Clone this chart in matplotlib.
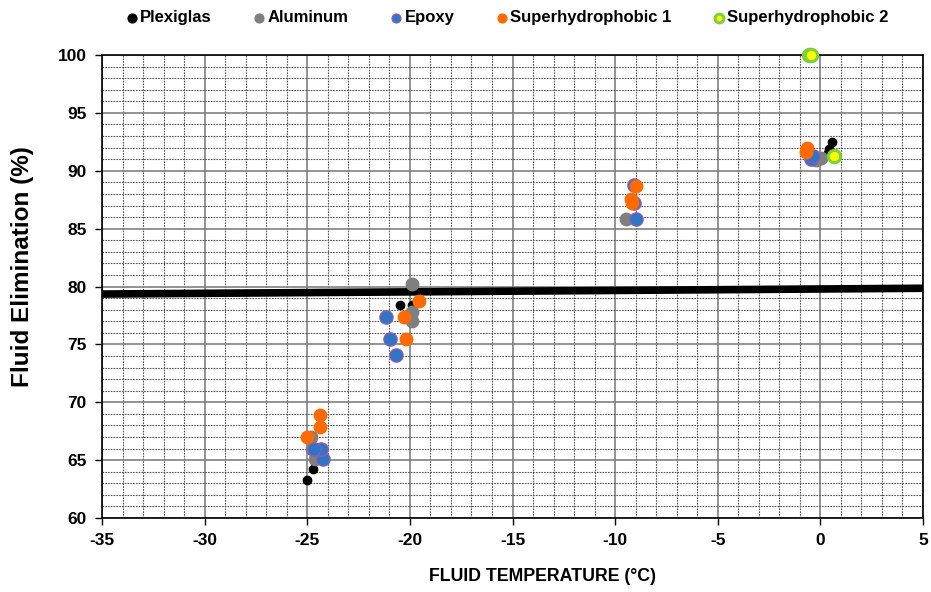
import matplotlib
matplotlib.use('Agg')
import matplotlib.pyplot as plt
from matplotlib.ticker import MultipleLocator

plt.rcParams['font.family'] = ['Liberation Sans', 'DejaVu Sans']
plt.rcParams['font.weight'] = 'bold'
plt.rcParams['axes.unicode_minus'] = False

# Data
plexi_x = [-25.0, -24.7, -20.5, -19.9, 0.36, 0.44, 0.57]
plexi_y = [63.3, 64.2, 78.4, 78.4, 91.5, 91.9, 92.5]

alu_x = [-24.6, -24.77, -24.8, -19.9, -19.9, -19.9, -9.46, 0.03, -0.2]
alu_y = [65.1, 66.0, 67.0, 80.2, 77.8, 77.0, 85.85, 91.1, 90.95]

epoxy_x = [-24.25, -24.35, -24.67, -21.18, -20.98, -20.69, -8.97, -9.06, -9.08, -0.45, -0.35]
epoxy_y = [65.1, 66.0, 66.0, 77.4, 75.5, 74.1, 85.85, 87.2, 88.8, 91.05, 91.3]

sh1_x = [-25.0, -24.4, -24.4, -19.57, -20.3, -20.17, -9.25, -9.16, -8.97, -0.67, -0.7]
sh1_y = [67.0, 67.9, 68.9, 78.75, 77.4, 75.5, 87.6, 87.2, 88.7, 92.0, 91.6]

sh2_x = [-0.55, -0.47, 0.68]
sh2_y = [100.0, 100.0, 91.27]

trend_x = [-35, 5]
trend_y = [79.35, 79.85]

fig = plt.figure(figsize=(9.31, 5.92), dpi=100)
ax = fig.add_axes([0.1096, 0.125, 0.8818, 0.782])

# grid
ax.xaxis.set_major_locator(MultipleLocator(5))
ax.yaxis.set_major_locator(MultipleLocator(5))
ax.xaxis.set_minor_locator(MultipleLocator(1))
ax.yaxis.set_minor_locator(MultipleLocator(1))
ax.grid(which='minor', color='#555555', linestyle=(0, (1.5, 1)), linewidth=0.8)
ax.grid(which='major', color='#808080', linestyle='-', linewidth=1.2)
ax.set_axisbelow(True)

ax.plot(trend_x, trend_y, color='black', linewidth=5.5, zorder=2, solid_capstyle='butt')

ax.scatter(plexi_x, plexi_y, s=36, color='black', zorder=3, label='Plexiglas')
ax.scatter(alu_x, alu_y, s=80, color='#7f7f7f', zorder=3, label='Aluminum')
ax.scatter(epoxy_x, epoxy_y, s=90, color='#2e75c6', edgecolors='#8a5cb8', linewidths=1.0,
           zorder=3, label='Epoxy')
ax.scatter(sh1_x, sh1_y, s=80, color='#ff6a00', zorder=3, label='Superhydrophobic 1')
ax.scatter(sh2_x, sh2_y, s=80, color='#ffff00', edgecolors='#7ed03a', linewidths=2.2,
           zorder=4, label='Superhydrophobic 2', clip_on=False)

ax.set_xlim(-35, 5)
ax.set_ylim(60, 100)
ax.tick_params(which='major', direction='out', length=5, width=1, labelsize=12.5, pad=6)
ax.tick_params(which='minor', length=0)
for s in ax.spines.values():
    s.set_linewidth(1.2)

ax.set_xlabel('FLUID TEMPERATURE (°C)', fontsize=12.8, fontweight='bold')
ax.xaxis.set_label_coords(0.536, -0.108)
ax.set_ylabel('Fluid Elimination (%)', fontsize=17.5, fontweight='bold')
ax.yaxis.set_label_coords(-0.083, 0.544)

leg = fig.legend(loc='upper center', bbox_to_anchor=(0.546, 1.008), ncol=5, frameon=False,
                 fontsize=12, handlelength=0.5, handletextpad=0.25, columnspacing=2.6,
                 scatterpoints=1)
for h in leg.legend_handles:
    h.set_sizes([40])

fig.savefig('out.png', dpi=100)
